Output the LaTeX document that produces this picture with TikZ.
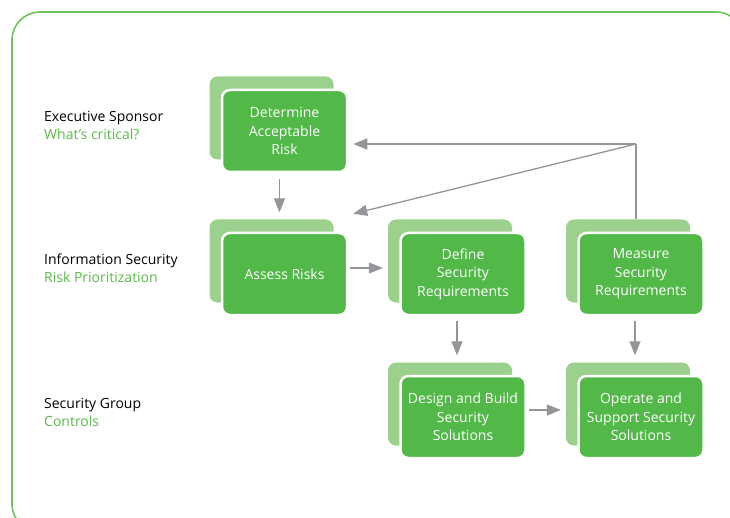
\documentclass[tikz,border=0pt]{standalone}
\usepackage{fontspec}
\setmainfont{Open Sans}
\usetikzlibrary{arrows.meta}
\definecolor{xgreen}{HTML}{52B848}
\definecolor{xlight}{HTML}{9BD18C}
\definecolor{xframe}{HTML}{6CC45C}
\definecolor{xgray}{HTML}{939598}
\definecolor{xtext}{HTML}{5CB94B}
\tikzset{
 front/.style={fill=xgreen,draw=white,line width=2.5pt,rounded corners=8pt,minimum width=125pt,minimum height=82pt,text=white,align=center,inner sep=0pt,font=\fontsize{14}{18.5}\selectfont},
 back/.style={fill=xlight,rounded corners=8pt,minimum width=124pt,minimum height=83pt,inner sep=0pt},
 arr/.style={-{Triangle[length=14pt,width=11pt]},xgray,line width=1.3pt},
 role/.style={anchor=base west,inner sep=0pt,font=\fontsize{14}{18}\selectfont},
}
\begin{document}
\begin{tikzpicture}[x=1pt,y=-1pt]
 \def\dd{13} % shadow offset
 \useasboundingbox (0,0) rectangle (730,518);
 \draw[xframe,line width=1.6pt,rounded corners=28pt] (12,12) rectangle (744,532);
 % roles
 \foreach \n/\y/\r/\g in {1/122/Executive Sponsor/What’s critical?,2/265/Information Security/Risk Prioritization,3/408/Security Group/Controls}{
  \node[role] (r\n) at (44,\y) {\r};
  \node[role,text=xtext] (g\n) at (44,\y+18) {\g};
 }
 % boxes
 \foreach \n/\x/\y/\t in {1/284.5/131/{Determine\\Acceptable\\Risk},2/284.5/274/{Assess Risks},3/463/274/{Define\\Security\\Requirements},4/641/274/{Measure\\Security\\Requirements},5/463/417/{Design and Build\\Security\\Solutions},6/641/417/{Operate and\\Support Security\\Solutions}}{
  \node[back] (b\n) at (\x-\dd,\y-\dd) {};
  \node[front] (f\n) at (\x,\y) {\t};
 }
 \draw[arr,shorten <=6pt,shorten >=7pt] ([xshift=-5pt]f1.south) -- ([xshift=-5pt]f1.south |- b2.north);
 \draw[arr,shorten <=2pt,shorten >=5pt] ([yshift=6pt]f2.east) -- ([yshift=6pt]f2.east -| b3.west);
 \draw[arr,shorten <=5pt,shorten >=7pt] ([xshift=-6pt]f3.south) -- ([xshift=-6pt]f3.south |- b5.north);
 \draw[arr,shorten <=5pt,shorten >=7pt] ([xshift=-6pt]f4.south) -- ([xshift=-6pt]f4.south |- b6.north);
 \draw[arr,shorten <=2pt,shorten >=5pt] ([yshift=7pt]f5.east) -- ([yshift=7pt]f5.east -| b6.west);
 % feedback
 \coordinate (turn) at (636,144);
 \draw[xgray,line width=1.3pt] (turn |- b4.north) -- (turn);
 \draw[arr,shorten >=5pt] (turn) -- (turn -| f1.east);
 \draw[arr] (turn) -- ([xshift=5pt,yshift=18pt]f2.north east);
\end{tikzpicture}
\end{document}
